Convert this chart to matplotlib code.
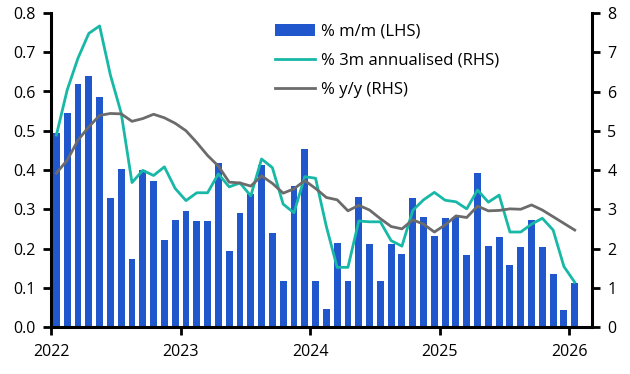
import matplotlib
matplotlib.use("Agg")
import matplotlib.pyplot as plt
import numpy as np

plt.rcParams['font.family'] = ['Open Sans', 'DejaVu Sans']

# Monthly data Jan 2022 - Jan 2026
mm = [0.493, 0.545, 0.619, 0.639, 0.586, 0.329, 0.403, 0.173, 0.400, 0.372,
      0.222, 0.273, 0.296, 0.270, 0.270, 0.417, 0.194, 0.290, 0.339, 0.413,
      0.240, 0.117, 0.359, 0.453, 0.117, 0.046, 0.214, 0.117, 0.331, 0.211,
      0.117, 0.211, 0.186, 0.329, 0.280, 0.232, 0.278, 0.280, 0.183, 0.392,
      0.206, 0.229, 0.158, 0.204, 0.273, 0.204, 0.135, 0.043, 0.112]

ann3m = [4.89, 6.04, 6.85, 7.48, 7.67, 6.42, 5.45, 3.68, 3.99, 3.86,
         4.08, 3.53, 3.22, 3.42, 3.42, 3.90, 3.57, 3.67, 3.34, 4.28,
         4.06, 3.13, 2.91, 3.83, 3.79, 2.56, 1.52, 1.52, 2.70, 2.68,
         2.68, 2.20, 2.06, 2.97, 3.24, 3.43, 3.23, 3.19, 3.01, 3.49,
         3.18, 3.36, 2.42, 2.42, 2.62, 2.77, 2.47, 1.54, 1.14]

yy = [3.92, 4.25, 4.76, 5.10, 5.39, 5.44, 5.43, 5.24, 5.31, 5.42,
      5.33, 5.19, 5.00, 4.70, 4.37, 4.10, 3.69, 3.67, 3.59, 3.85,
      3.66, 3.41, 3.52, 3.73, 3.53, 3.30, 3.24, 2.96, 3.10, 2.98,
      2.76, 2.56, 2.50, 2.73, 2.62, 2.42, 2.60, 2.83, 2.79, 3.08,
      2.96, 2.97, 3.01, 3.00, 3.11, 2.98, 2.81, 2.64, 2.47]

years = ['2022', '2023', '2024', '2025', '2026']
labels = ['% m/m (LHS)', '% 3m annualised (RHS)', '% y/y (RHS)']

x = np.arange(len(mm)) + 0.5

fig = plt.figure(figsize=(6.3, 3.74), dpi=100)
ax = fig.add_axes([51/630, 1-327/374, (592-51)/630, (327-13)/374])
ax2 = ax.twinx()

blue = '#2057CC'
green = '#17B8A6'
gray = '#6B6B6B'

b = ax.bar(x, mm, width=0.64, color=blue, label=labels[0], zorder=2)
ax.set_zorder(1)
ax2.set_zorder(2)
l1, = ax2.plot(x, ann3m, color=green, lw=2.0, label=labels[1])
l2, = ax2.plot(x, yy, color=gray, lw=2.0, label=labels[2])

ax.set_xlim(0, 50.1)
ax.set_ylim(0, 0.8)
ax2.set_ylim(0, 8)
ax.set_yticks(np.arange(0, 0.81, 0.1))
ax.set_yticklabels([f'{v:.1f}' for v in np.arange(0, 0.81, 0.1)])
ax2.set_yticks(range(0, 9))
ax.set_xticks([0, 12, 24, 36, 48])
ax.set_xticklabels(years)

for a in (ax, ax2):
    a.spines['top'].set_visible(False)
    for s in ('left', 'right', 'bottom'):
        a.spines[s].set_linewidth(2.2)
    a.tick_params(width=2, length=6, labelsize=11.5, pad=5, color='black')
ax.spines['right'].set_visible(False)
ax2.spines['left'].set_visible(False)
ax2.spines['bottom'].set_visible(False)
ax.tick_params(axis='x', pad=6)
ax.patch.set_visible(False)

leg = ax2.legend([b, l1, l2], labels, loc='upper left', bbox_to_anchor=(0.414, 0.965),
                 frameon=False, fontsize=12, handlelength=2.4, handletextpad=0.35,
                 labelspacing=0.77, borderaxespad=0.0, borderpad=0.0)

fig.savefig('out.png', dpi=100)
